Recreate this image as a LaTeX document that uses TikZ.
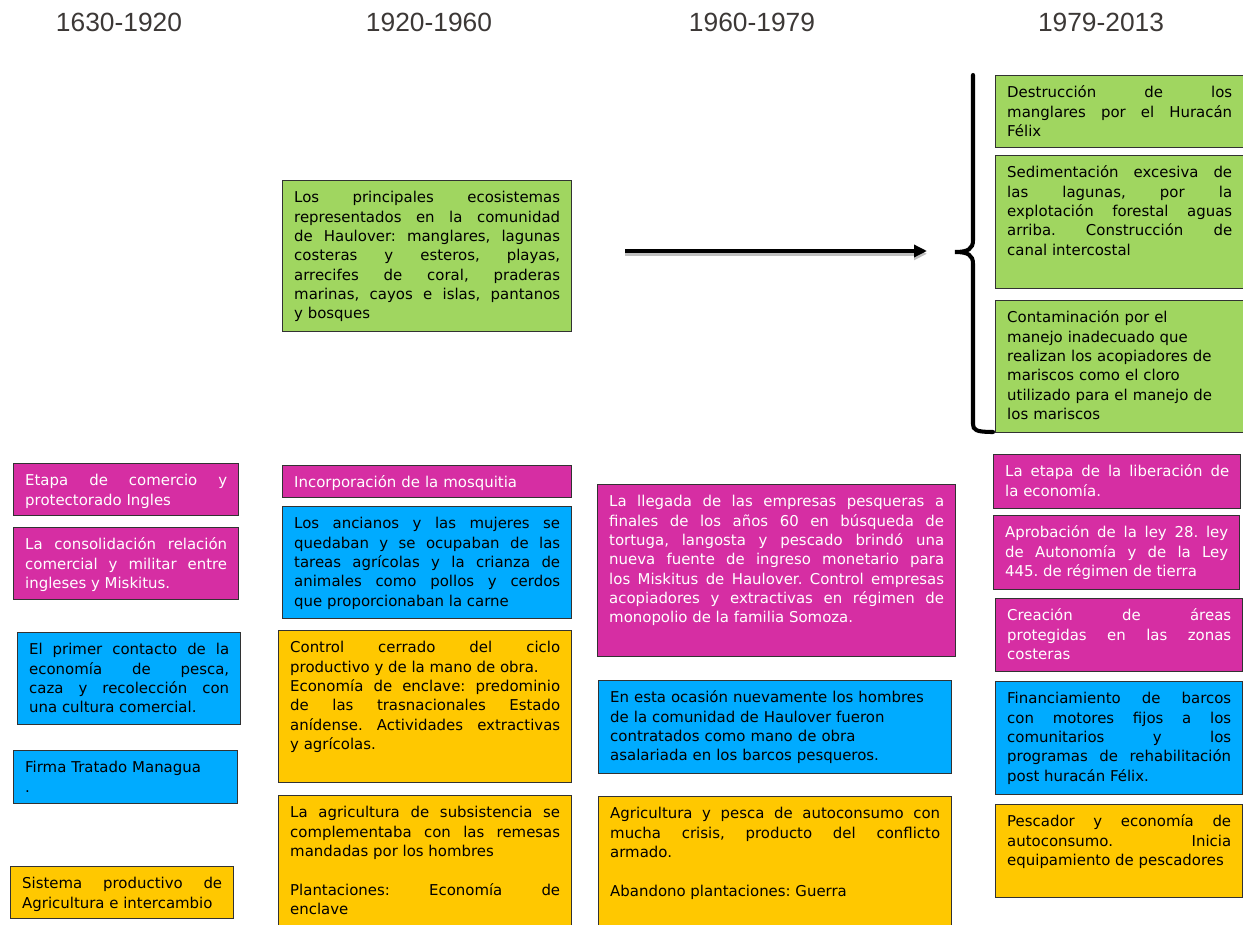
\documentclass[tikz,border=0pt]{standalone}
\usepackage{fontspec}
\setmainfont{DejaVu Sans}
\newfontfamily\yearfont{Liberation Sans}
\usetikzlibrary{arrows.meta}
\definecolor{boxmagenta}{RGB}{214,46,163}
\definecolor{boxblue}{RGB}{0,171,255}
\definecolor{boxyellow}{RGB}{255,200,0}
\definecolor{boxgreen}{RGB}{160,214,96}
\definecolor{boxedge}{RGB}{50,50,50}
\definecolor{yeargray}{RGB}{60,56,54}
\frenchspacing
\begin{document}
\begin{tikzpicture}[x=0.02cm,y=-0.02cm,
  card/.style={draw=boxedge,line width=0.8pt,anchor=north west,align=justify,
    inner xsep=0.23cm,inner ysep=0.1cm,text height=0.34cm,font=\fontsize{8.5}{11}\selectfont},
  pinkcard/.style={card,fill=boxmagenta,text=white},
  bluecard/.style={card,fill=boxblue},
  yellowcard/.style={card,fill=boxyellow},
  greencard/.style={card,fill=boxgreen},
  yearlabel/.style={font=\yearfont\fontsize{15}{18}\selectfont,text=yeargray},
  arrowline/.style={line width=2.2pt,-{Triangle[length=0.26cm,width=0.24cm]}}]
\useasboundingbox (0,0) rectangle (1243,925);
% years
\node[yearlabel] (y1630) at (119,22) {1630-1920};
\node[yearlabel] (y1920) at (429,22) {1920-1960};
\node[yearlabel] (y1960) at (752,22) {1960-1979};
\node[yearlabel] (y1979) at (1101,22) {1979-2013};
% 1630-1920
\node[pinkcard,text width=4.04cm,text depth=0.5cm] (etapa) at (13,463) {Etapa de comercio y\linebreak protectorado Ingles};
\node[pinkcard,text width=4.04cm,text depth=0.9cm] (consolidacion) at (13,527) {La consolidación relación\linebreak comercial y militar entre\linebreak ingleses y Miskitus.};
\node[bluecard,text width=4.0cm,text depth=1.3cm] (contacto) at (17,632) {El primer contacto de la\linebreak economía de pesca,\linebreak caza y recolección con\linebreak una cultura comercial.};
\node[bluecard,align=left,text width=4.02cm,text depth=0.52cm] (tratado) at (13,750) {Firma Tratado Managua\\ .};
\node[yellowcard,text width=4.0cm,text depth=0.5cm] (sistema) at (10,866) {Sistema productivo de\linebreak Agricultura e intercambio};
% 1920-1960
\node[greencard,text width=5.32cm,text depth=2.48cm] (ecosistemas) at (282,180) {Los principales ecosistemas\linebreak representados en la comunidad\linebreak de Haulover: manglares, lagunas\linebreak costeras y esteros, playas,\linebreak arrecifes de coral, praderas\linebreak marinas, cayos e islas, pantanos\linebreak y bosques};
\node[pinkcard,align=left,text width=5.32cm,text depth=0.1cm] (mosquitia) at (282,465) {Incorporación de la mosquitia};
\node[bluecard,text width=5.32cm,text depth=1.7cm] (ancianos) at (282,506) {Los ancianos y las mujeres se\linebreak quedaban y se ocupaban de las\linebreak tareas agrícolas y la crianza de\linebreak animales como pollos y cerdos\linebreak que proporcionaban la carne};
\node[yellowcard,text width=5.4cm,text depth=2.5cm] (enclave) at (278,630) {Control cerrado del ciclo\linebreak productivo y de la mano de obra.\\ Economía de enclave: predominio\linebreak de las trasnacionales Estado\linebreak anídense. Actividades extractivas\linebreak y agrícolas.};
\node[yellowcard,text width=5.4cm,text depth=2.26cm] (subsistencia) at (278,795) {La agricultura de subsistencia se\linebreak complementaba con las remesas\linebreak mandadas por los hombres\\[11pt] Plantaciones: Economía de\linebreak enclave};
% 1960-1979
\node[pinkcard,text width=6.7cm,text depth=2.9cm] (llegada) at (597,484) {La llegada de las empresas pesqueras a\linebreak finales de los años 60 en búsqueda de\linebreak tortuga, langosta y pescado brindó una\linebreak nueva fuente de ingreso monetario para\linebreak los Miskitus de Haulover. Control empresas\linebreak acopiadores y extractivas en régimen de\linebreak monopolio de la familia Somoza.};
\node[bluecard,align=left,text width=6.6cm,text depth=1.32cm] (ocasion) at (598,680) {En esta ocasión nuevamente los hombres\\ de la comunidad de Haulover fueron\\ contratados como mano de obra\\ asalariada en los barcos pesqueros.};
\node[yellowcard,text width=6.6cm,text depth=2.26cm] (autoconsumo) at (598,796) {Agricultura y pesca de autoconsumo con\linebreak mucha crisis, producto del conflicto\linebreak armado.\\[11pt] Abandono plantaciones: Guerra};
% 1979-2013
\node[greencard,text width=4.5cm,text depth=0.9cm] (manglares) at (995,75) {Destrucción de los\linebreak manglares por el Huracán\linebreak Félix};
\node[greencard,text width=4.5cm,text depth=2.12cm] (sedimentacion) at (995,155) {Sedimentación excesiva de\linebreak las lagunas, por la\linebreak explotación forestal aguas\linebreak arriba. Construcción de\linebreak canal intercostal};
\node[greencard,align=left,text width=4.5cm,text depth=2.1cm] (contaminacion) at (995,300) {Contaminación por el\\ manejo inadecuado que\\ realizan los acopiadores de\\ mariscos como el cloro\\ utilizado para el manejo de\\ los mariscos};
\node[pinkcard,text width=4.48cm,text depth=0.54cm] (liberacion) at (993,454) {La etapa de la liberación de\linebreak la economía.};
\node[pinkcard,text width=4.46cm,text depth=0.94cm] (ley) at (993,515) {Aprobación de la ley 28. ley\linebreak de Autonomía y de la Ley\linebreak 445. de régimen de tierra};
\node[pinkcard,text width=4.48cm,text depth=0.92cm] (areas) at (995,598) {Creación de áreas\linebreak protegidas en las zonas\linebreak costeras};
\node[bluecard,text width=4.48cm,text depth=1.72cm] (financiamiento) at (995,681) {Financiamiento de barcos\linebreak con motores fijos a los\linebreak comunitarios y los\linebreak programas de rehabilitación\linebreak post huracán Félix.};
\node[yellowcard,text width=4.48cm,text depth=1.32cm] (pescador) at (995,804) {Pescador y economía de\linebreak autoconsumo. Inicia\linebreak equipamiento de pescadores};
% arrow and brace
\coordinate (arrowstart) at (625,251);
\coordinate (arrowend) at (927,251);
\draw[arrowline,black!25,transform canvas={yshift=-1.6pt}] (arrowstart) -- (arrowend);
\draw[arrowline] (arrowstart) -- (arrowend);
\draw[line width=2.3pt,line cap=round] (973,75) -- (973,240) .. controls (973,249) and (968,252) .. (955,252)
  .. controls (968,252) and (973,255) .. (973,264) -- (973,424) .. controls (973,430) and (976,432) .. (993,432);
\end{tikzpicture}
\end{document}
